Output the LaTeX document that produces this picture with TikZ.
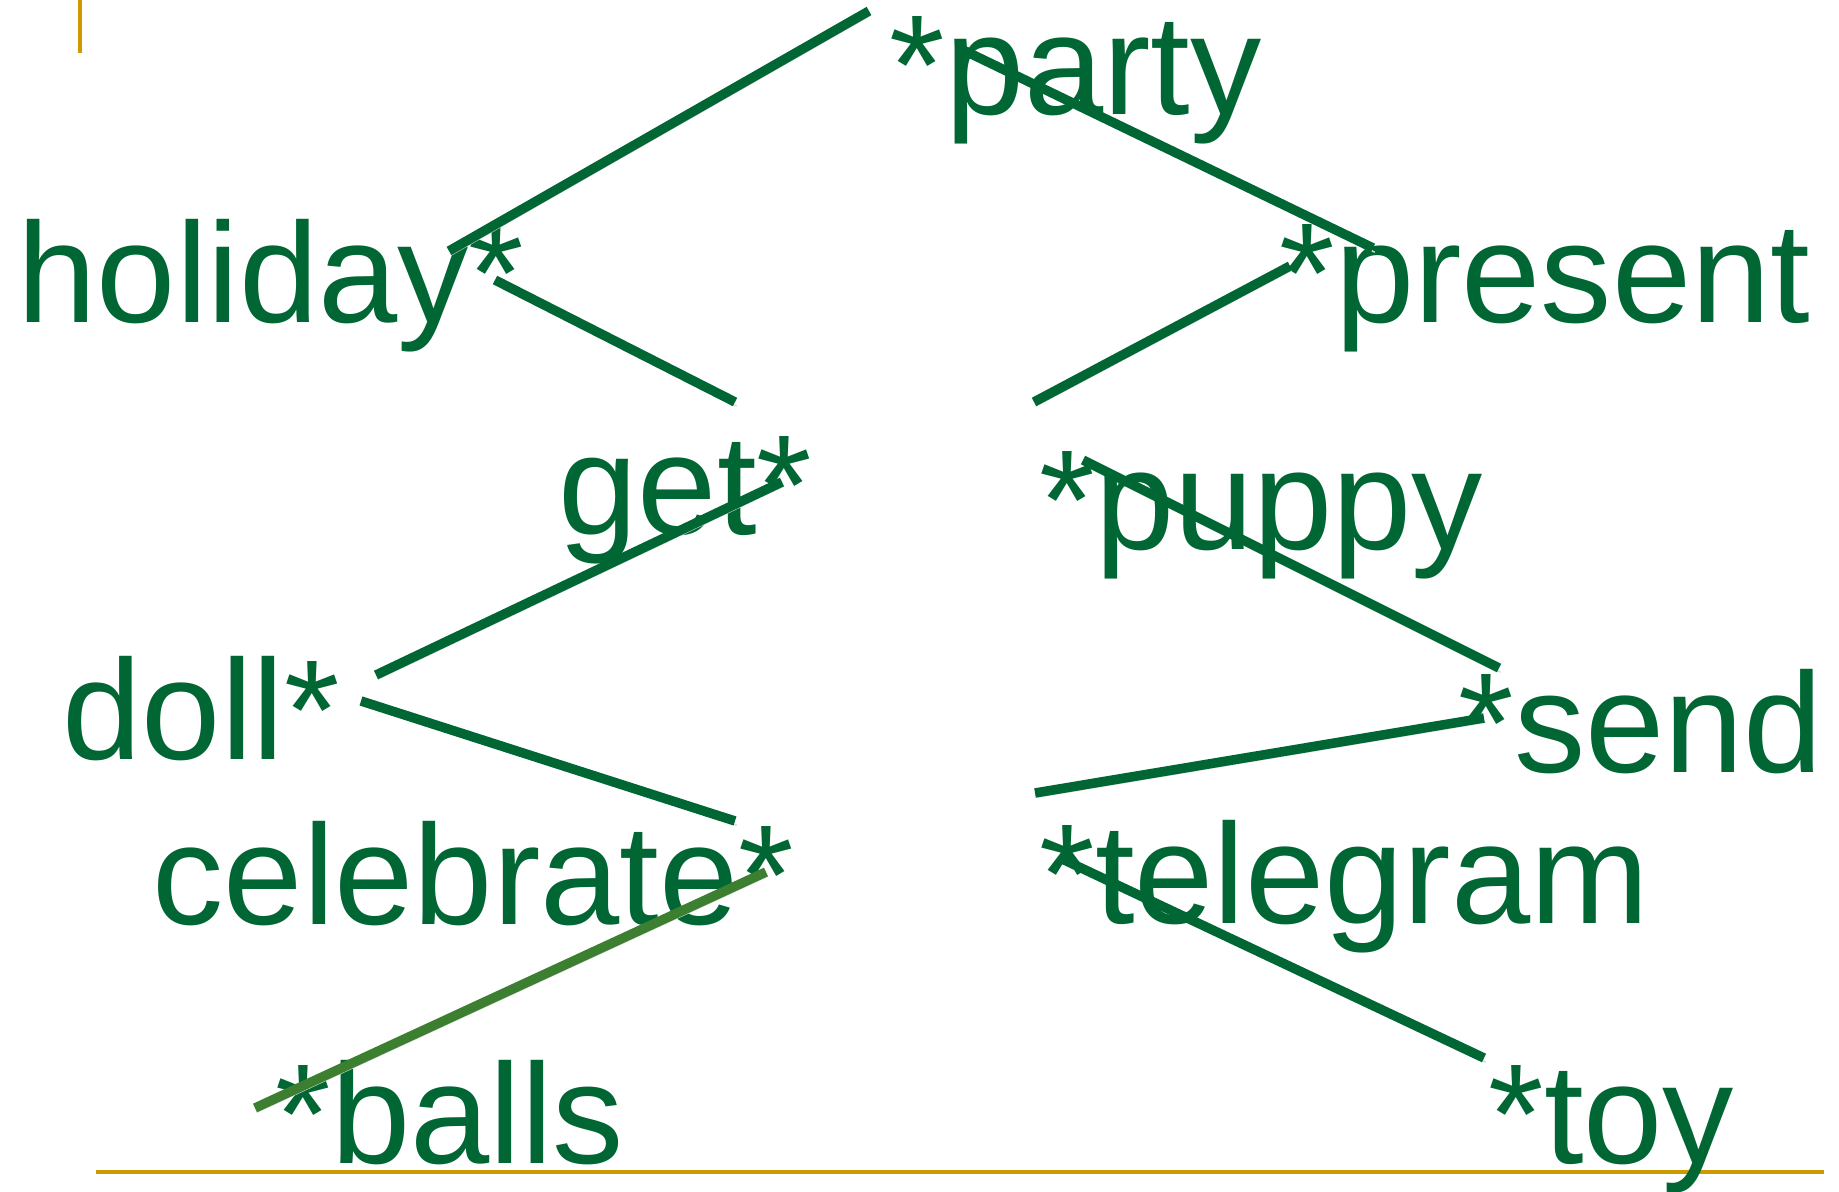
\documentclass[tikz,border=0pt]{standalone}
\usepackage{fontspec}
\setmainfont{Liberation Sans}
\usepackage{tikz}
\definecolor{wordgreen}{HTML}{006633}
\definecolor{ballgreen}{HTML}{3C7F30}
\definecolor{rulegold}{HTML}{CC9900}
\tikzset{
  word/.style={anchor=base west, inner sep=0pt, text=wordgreen,
    font=\fontsize{40.5}{48}\selectfont},
  link/.style={draw=wordgreen, line width=2.7pt,
    preaction={draw=black!15, transform canvas={shift={(0.5pt,-1.2pt)}}}},
}

\begin{document}
\begin{tikzpicture}[x=0.01cm, y=-0.01cm]
		\useasboundingbox (0,0) rectangle (1839,1192);
		%rules
		\draw [rulegold, line width=1pt] (80,0) -- (80,53);
		\draw [rulegold, line width=1.2pt] (96,1172) -- (1824,1172);
		%words
		\node [word] (par) at (889,115) {*party};
		\node [word] (hol) at (17,323) {holiday*};
		\node [word] (pre) at (1279,323) {*present};
		\node [word] (get) at (558,535) {get*};
		\node [word] (pup) at (1039,550) {*puppy};
		\node [word] (dol) at (62,760) {doll*};
		\node [word] (sen) at (1458,773) {*send};
		\node [word] (cel) at (152,925) {celebrate*};
		\node [word] (tel) at (1039,924) {*telegram};
		\node [word] (bal) at (275,1164) {*balls};
		\node [word] (toy) at (1488,1164) {*toy};
		%left
		\draw [link] ([shift={(432,-72)}]hol.base west) -- ([shift={(-20,-104)}]par.base west);
		\draw [link] ([shift={(478,-43)}]hol.base west) -- ([shift={(177,-133)}]get.base west);
		\draw [link] ([shift={(224,-53)}]get.base west) -- ([shift={(314,-85)}]dol.base west);
		\draw [link] ([shift={(299,-59)}]dol.base west) -- ([shift={(583,-104)}]cel.base west);
		\draw [link, draw=ballgreen] ([shift={(614,-53)}]cel.base west) -- ([shift={(-20,-56)}]bal.base west);
		%right
		\draw [link] ([shift={(74,-65)}]par.base west) -- ([shift={(94,-75)}]pre.base west);
		\draw [link] ([shift={(11,-57)}]pre.base west) -- ([shift={(-5,-148)}]pup.base west);
		\draw [link] ([shift={(44,-90)}]pup.base west) -- ([shift={(41,-105)}]sen.base west);
		\draw [link] ([shift={(26,-55)}]sen.base west) -- ([shift={(-4,-131)}]tel.base west);
		\draw [link] ([shift={(21,-66)}]tel.base west) -- ([shift={(-4,-106)}]toy.base west);
	\end{tikzpicture}
\end{document}
